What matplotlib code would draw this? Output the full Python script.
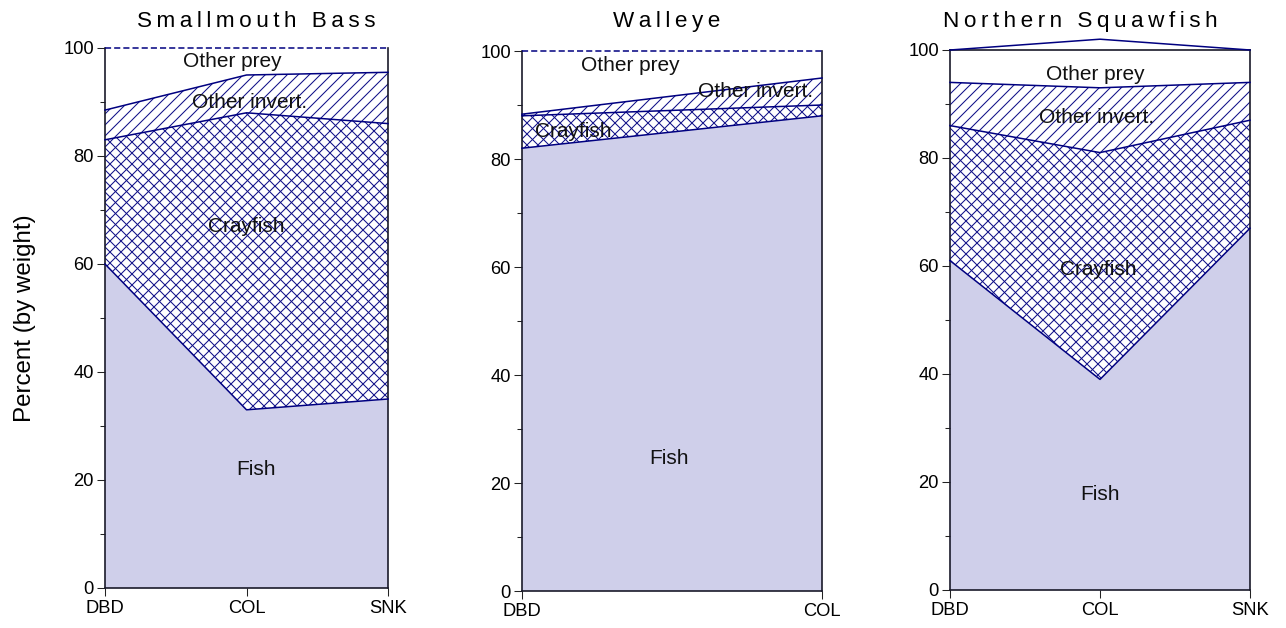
import numpy as np
import matplotlib
matplotlib.use('Agg')
import matplotlib.pyplot as plt
from matplotlib.ticker import MultipleLocator
from matplotlib.collections import LineCollection

DPI = 100
W, H = 1286, 628

plt.rcParams['font.family'] = ['Liberation Sans', 'DejaVu Sans']

NAVY = '#000080'
HATCH_C = '#101088'
FISH_C = '#cfcfea'

categories = ['Fish', 'Crayfish', 'Other invert.', 'Other prey']
titles = ['Smallmouth Bass', 'Walleye', 'Northern Squawfish']

# Smallmouth Bass
smb_sites = ['DBD', 'COL', 'SNK']
smb_fish = [60, 33, 35]
smb_cray = [23, 55, 51]
smb_inv = [5.5, 7, 9.5]
smb_prey = [11.5, 5, 4.5]

# Walleye
wal_sites = ['DBD', 'COL']
wal_fish = [82, 88]
wal_cray = [6, 2]
wal_inv = [0.3, 5]
wal_prey = [11.7, 5]

# Northern Squawfish
nsf_sites = ['DBD', 'COL', 'SNK']
nsf_fish = [61, 39, 67]
nsf_cray = [25, 42, 20]
nsf_inv = [8, 12, 7]
nsf_prey = [6, 9, 6]

# положения подписей внутри областей (x - индекс участка, y - проценты)
smb_lab = [(1.07, 22), (1.0, 67), (1.02, 90), (0.9, 97.5)]
wal_lab = [(0.49, 24.5), (0.17, 85), (0.78, 92.5), (0.36, 97.4)]
nsf_lab = [(1.0, 17.6), (0.99, 59.4), (0.98, 87.5), (0.97, 95.5)]

# left, top, width в пикселях; x центра заголовка
panels = [
    (smb_sites, [smb_fish, smb_cray, smb_inv, smb_prey], smb_lab, [105, 48, 283], 256),
    (wal_sites, [wal_fish, wal_cray, wal_inv, wal_prey], wal_lab, [522, 51, 300], 667),
    (nsf_sites, [nsf_fish, nsf_cray, nsf_inv, nsf_prey], nsf_lab, [950, 50, 300], 1080),
]
AX_H = 540

# заливка и направления штриховки для каждого слоя
fills = [(FISH_C, []), ('white', [1, -1]), ('white', [1]), ('white', [])]
STEP = 11  # шаг штриховки, px


def hatch(ax, poly, wpx, hpx, dirs):
    segs = []
    for d in dirs:
        for c in np.arange(-hpx, wpx + STEP, STEP):
            if d > 0:
                segs.append([(c / wpx, 0), ((c + hpx) / wpx, 1)])
            else:
                segs.append([(c / wpx, 1), ((c + hpx) / wpx, 0)])
    lc = LineCollection(segs, colors=HATCH_C, linewidths=0.75, transform=ax.transAxes, zorder=2)
    ax.add_collection(lc)
    lc.set_clip_path(poly.get_paths()[0], ax.transData)


fig = plt.figure(figsize=(W / DPI, H / DPI), dpi=DPI)

for i, (sites, layers, labs, (left, top, width), tx) in enumerate(panels):
    ax = fig.add_axes([left / W, (H - top - AX_H) / H, width / W, AX_H / H])
    x = np.arange(len(sites))
    bottom = np.zeros(len(sites))
    for j, (vals, (fc, dirs)) in enumerate(zip(layers, fills)):
        upper = bottom + np.array(vals)
        poly = ax.fill_between(x, bottom, upper, facecolor=fc, linewidth=0,
                               clip_on=False, zorder=1)
        if dirs:
            hatch(ax, poly, width, AX_H, dirs)
        if j == len(layers) - 1 and i < 2:
            ax.plot(x, upper, color=NAVY, lw=1.1, ls=(0, (4, 2)), clip_on=False, zorder=3)
        else:
            ax.plot(x, upper, color=NAVY, lw=1.1, clip_on=False, zorder=3)
        bottom = upper

    for name, (lx, ly) in zip(categories, labs):
        ax.text(lx, ly, name, ha='center', va='center', fontsize=15, color='#111111', zorder=4)

    ax.set_xlim(0, len(sites) - 1)
    ax.set_ylim(0, 100)
    ax.set_xticks(x)
    ax.set_xticklabels(sites)
    ax.yaxis.set_major_locator(MultipleLocator(20))
    ax.yaxis.set_minor_locator(MultipleLocator(10))
    ax.tick_params(which='major', direction='out', length=5.8, width=0.75,
                   labelsize=13.2, pad=2.2, colors='#222222', labelcolor='black')
    ax.tick_params(which='minor', direction='out', length=3.6, width=0.75, colors='#222222')
    ax.tick_params(axis='x', pad=3)
    for s in ['left', 'right', 'bottom', 'top']:
        ax.spines[s].set_linewidth(1.2)
        ax.spines[s].set_color('#1a1a2a')
    if i < 2:
        ax.spines['top'].set_visible(False)

    # разреженный заголовок через тонкие пробелы
    fig.text(tx / W, (H - 27) / H, '\u2009'.join(titles[i]), ha='center', va='baseline',
             fontsize=16.2)

fig.text(25 / W, (H - 318) / H, 'Percent (by weight)', rotation=90, ha='center', va='center',
         fontsize=17.4)

fig.savefig('out.png', dpi=DPI)
